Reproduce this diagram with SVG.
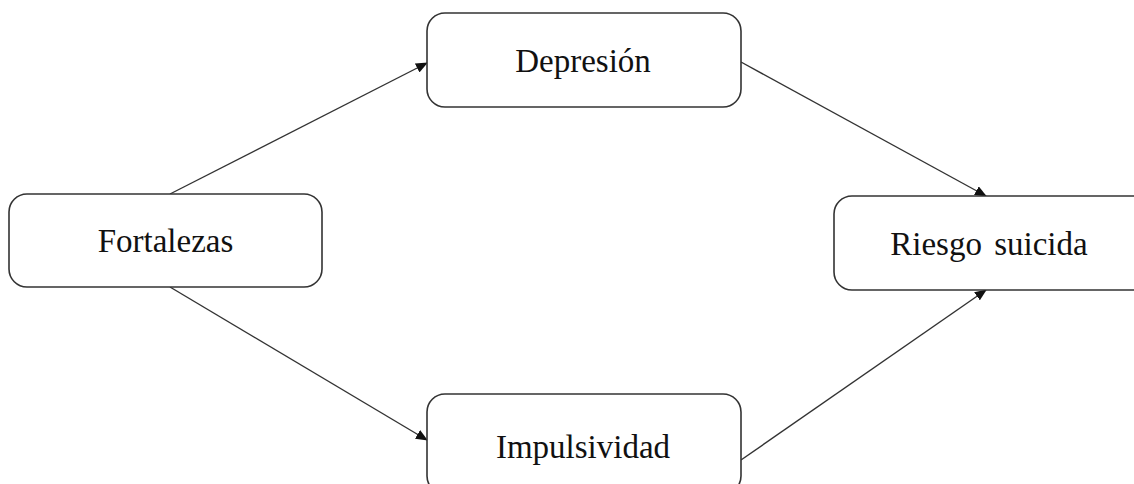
<svg xmlns="http://www.w3.org/2000/svg" width="1134" height="484" viewBox="0 0 1134 484">
<style>
.box{fill:#fff;stroke:#333;stroke-width:1.6}
.lbl{font-family:"Liberation Serif","Times New Roman",serif;font-size:33px;fill:#111;text-anchor:middle}
.conn{stroke:#333;stroke-width:1.4;fill:none;marker-end:url(#ah)}
</style>
<defs>
<marker id="ah" markerWidth="12" markerHeight="10" refX="11" refY="5" orient="auto" markerUnits="userSpaceOnUse">
<path d="M0,0 L12,5 L0,10 Z" fill="#111"/>
</marker>
</defs>
<rect width="1134" height="484" fill="#fff"/>
<g id="connectors">
<line class="conn" x1="170" y1="194" x2="427" y2="63"/>
<line class="conn" x1="741" y1="62" x2="986" y2="196"/>
<line class="conn" x1="170" y1="287" x2="427" y2="440"/>
<line class="conn" x1="741" y1="460" x2="986" y2="290"/>
</g>
<g id="depresion">
<rect class="box" x="427" y="13" width="314" height="94" rx="18"/>
<text class="lbl" x="583" y="72">Depresión</text>
</g>
<g id="fortalezas">
<rect class="box" x="9" y="194" width="313" height="93" rx="18"/>
<text class="lbl" x="165.5" y="252">Fortalezas</text>
</g>
<g id="riesgo">
<rect class="box" x="834" y="196" width="320" height="94" rx="18"/>
<text class="lbl" x="989" y="255" word-spacing="4">Riesgo suicida</text>
</g>
<g id="impulsividad">
<rect class="box" x="427" y="394" width="314" height="100" rx="18"/>
<text class="lbl" x="583" y="458">Impulsividad</text>
</g>
</svg>
